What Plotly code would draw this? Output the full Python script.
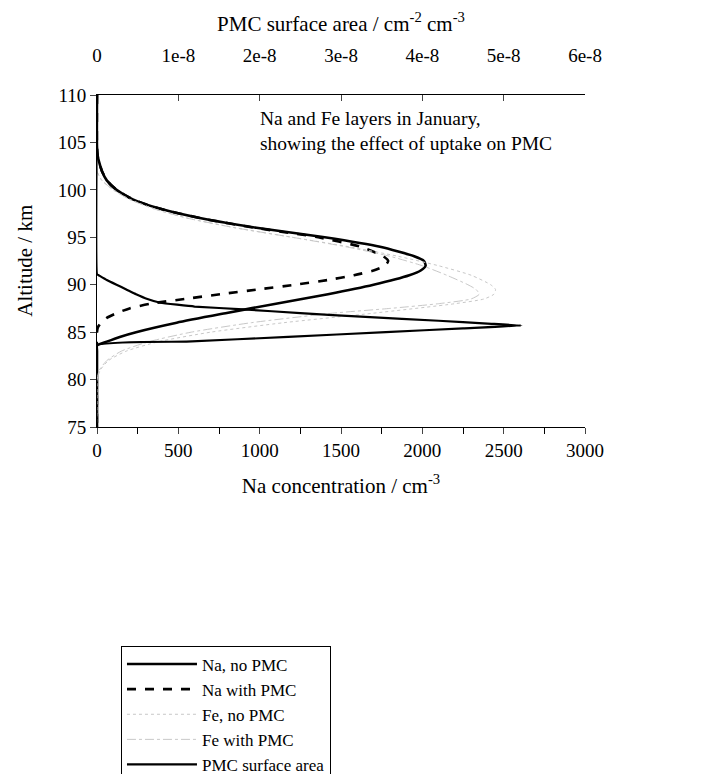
import plotly.graph_objects as go

# Altitude profiles (km) and concentrations (cm^-3)
na_alt = [110, 104.5, 103.5, 103, 102, 101, 100, 99, 98, 97, 96, 95, 94, 93, 92.5, 92, 91.5, 91,
          90, 89, 88, 87, 86, 85, 84.5, 84, 83.6, 83, 75]
na_no_pmc = [0, 0, 5, 12, 30, 60, 120, 220, 390, 640, 980, 1400, 1740, 1950, 2010, 2020, 1990, 1920,
             1700, 1420, 1100, 790, 490, 240, 140, 60, 0, 0, 0]

na_pmc_alt = [110, 104.5, 103.5, 103, 102, 101, 100, 99, 98, 97, 96, 95, 94, 93, 92.5, 92, 91.5, 91,
              90.5, 90, 89.5, 89, 88.5, 88, 87.5, 87, 86.5, 86, 85.5, 85, 75]
na_with_pmc = [0, 0, 5, 12, 30, 60, 120, 220, 390, 640, 970, 1360, 1620, 1760, 1790, 1770, 1700, 1580,
               1420, 1220, 990, 760, 540, 330, 200, 120, 60, 25, 5, 0, 0]

fe_alt = [110, 102, 101, 100, 99, 98, 97, 96, 95, 94, 93, 92, 91, 90, 89.5, 89, 88.5, 88, 87, 86,
          85, 84, 83, 82, 81, 80, 79.5, 75]
fe_no_pmc = [0, 0, 30, 100, 200, 350, 560, 850, 1200, 1550, 1850, 2100, 2300, 2420, 2450, 2440, 2380,
             2200, 1700, 1150, 700, 380, 180, 70, 20, 0, 0, 0]

fe_pmc_alt = [110, 102, 101, 100, 99, 98, 97, 96, 95, 94, 93, 92, 91, 90, 89.5, 89, 88.5, 88, 87.5,
              87, 86, 85, 84, 83, 82, 81, 80, 75]
fe_with_pmc = [0, 0, 30, 100, 200, 350, 560, 850, 1200, 1530, 1800, 2000, 2150, 2280, 2330, 2350, 2300,
               2100, 1800, 1450, 950, 580, 320, 150, 60, 15, 0, 0]

# PMC surface area (cm^-2 cm^-3)
pmc_alt = [110, 91.1, 91, 90.5, 90, 89.5, 89, 88.5, 88.1, 87.7, 87.4, 87.0, 86.6, 86.2, 85.9, 85.7,
           85.4, 85.0, 84.5, 84.0, 83.6, 75]
pmc_area = [0, 0, 0.02e-8, 0.12e-8, 0.24e-8, 0.36e-8, 0.48e-8, 0.62e-8, 0.78e-8, 1.2e-8, 1.8e-8, 2.5e-8,
            3.3e-8, 4.2e-8, 4.8e-8, 5.22e-8, 4.5e-8, 3.55e-8, 2.35e-8, 1.1e-8, 0, 0]

bottom_ticks = [0, 500, 1000, 1500, 2000, 2500, 3000]
top_ticks = [0, 1e-8, 2e-8, 3e-8, 4e-8, 5e-8, 6e-8]
top_tick_text = ["0", "1e-8", "2e-8", "3e-8", "4e-8", "5e-8", "6e-8"]
alt_ticks = [75, 80, 85, 90, 95, 100, 105, 110]

FONT = "Liberation Serif"

fig = go.Figure()
fig.add_trace(go.Scatter(x=na_no_pmc, y=na_alt, name="Na, no PMC", mode="lines",
                         line=dict(color="black", width=2.6, shape="spline", smoothing=0.6)))
fig.add_trace(go.Scatter(x=na_with_pmc, y=na_pmc_alt, name="Na with PMC", mode="lines",
                         line=dict(color="black", width=2.6, dash="dash", shape="spline", smoothing=0.6)))
fig.add_trace(go.Scatter(x=fe_no_pmc, y=fe_alt, name="Fe, no PMC", mode="lines",
                         line=dict(color="#c8c8c8", width=1, dash="dot", shape="spline", smoothing=0.6)))
fig.add_trace(go.Scatter(x=fe_with_pmc, y=fe_pmc_alt, name="Fe with PMC", mode="lines",
                         line=dict(color="#c8c8c8", width=1, dash="dashdot", shape="spline", smoothing=0.6)))
fig.add_trace(go.Scatter(x=pmc_area, y=pmc_alt, name="PMC surface area", mode="lines", xaxis="x2",
                         line=dict(color="black", width=2.2, shape="spline", smoothing=0.3)))

axis_font = dict(family=FONT, size=19, color="black")
title_font = dict(family=FONT, size=21, color="black")

fig.update_layout(
    width=705, height=774,
    margin=dict(l=97, r=120, t=95, b=347, autoexpand=False),
    paper_bgcolor="white", plot_bgcolor="white",
    font=dict(family=FONT, color="black"),
    xaxis=dict(range=[0, 3000], tickvals=bottom_ticks, ticks="outside", ticklen=6,
               showline=True, linecolor="black", linewidth=1, showgrid=False, zeroline=False,
               tickfont=axis_font,
               minor=dict(dtick=250, ticks="outside", ticklen=6, tickcolor="black", showgrid=False),
               title=dict(text="Na concentration / cm<sup>-3</sup>", font=title_font, standoff=18)),
    xaxis2=dict(range=[0, 6e-8], overlaying="x", side="top", anchor="y", tickvals=top_ticks,
                ticktext=top_tick_text, ticks="inside", ticklen=6, showline=True, linecolor="black",
                linewidth=1, showgrid=False, zeroline=False, tickfont=axis_font,
                ticklabelstandoff=24,
                title=dict(text="PMC surface area / cm<sup>-2</sup> cm<sup>-3</sup>", font=title_font,
                           standoff=8)),
    yaxis=dict(range=[75, 110], tickvals=alt_ticks, ticks="outside", ticklen=6,
               showline=True, linecolor="black", linewidth=1, showgrid=False, zeroline=False,
               tickfont=axis_font),
    legend=dict(xref="container", yref="container", x=0.1716, y=0.166, xanchor="left",
                yanchor="top", bordercolor="black", borderwidth=1, bgcolor="white",
                font=dict(family=FONT, size=17, color="black"), tracegroupgap=0, itemwidth=70),
    showlegend=True,
)

# Vertical axis title
fig.add_annotation(xref="paper", yref="paper", x=-0.148, y=0.5, xanchor="center", yanchor="middle",
                   textangle=-90, showarrow=False, text="Altitude / km", font=title_font)

fig.add_annotation(xref="paper", yref="paper", x=0.33, y=0.967, xanchor="left", yanchor="top",
                   align="left", showarrow=False,
                   text="Na and Fe layers in January,<br>showing the effect of uptake on PMC",
                   font=dict(family=FONT, size=19.5, color="black"))

fig.write_html("out.html")
